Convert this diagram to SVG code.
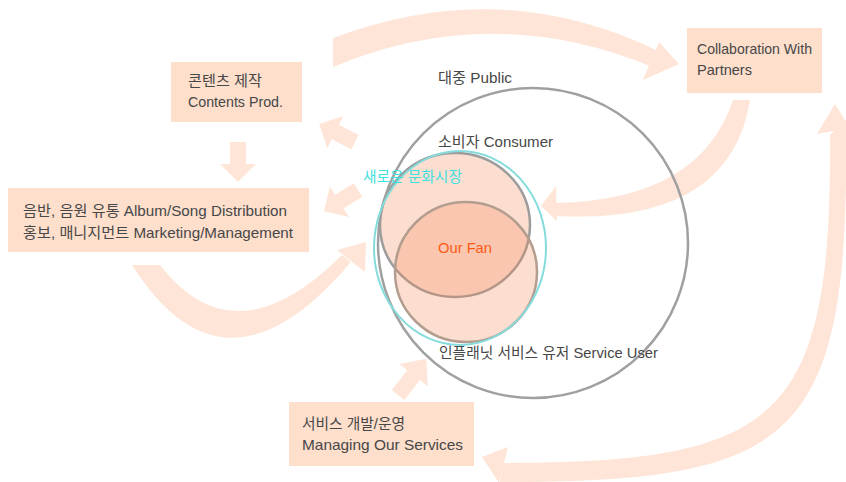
<svg xmlns="http://www.w3.org/2000/svg" xmlns:xlink="http://www.w3.org/1999/xlink" width="846" height="482" viewBox="0 0 846 482">
<defs>
<style>
.box{fill:#fddfcc}
.arr{fill:#fee5d7}
.t{font-family:"Liberation Sans","Noto Sans CJK KR",sans-serif;font-size:14.5px;fill:#474747}
.ring{fill:none;stroke:#a0a0a0;stroke-width:2.5}
.set{fill:#f5875a;fill-opacity:0.28;stroke-width:2.5}
</style>
<path id="sa" d="M0,-8 L22,-8 L22,-18 L40,0 L22,18 L22,8 L0,8 Z"/>
</defs>
<rect width="846" height="482" fill="#fff"/>
<g id="connectors" class="arr">
<path d="M333,38 Q500,-25 656,50 L650,66 Q490,1 333,67 Z"/>
<polygon points="679,64 659,42 643,80"/>
<path d="M750,100 Q730,225 556,216 L556,203 Q700,200 733,100 Z"/>
<polygon points="541,206 556,186 557,221"/>
<path d="M846,120 C850,440 800,482 500,482 L503,463 C780,463 832,420 830,135 Z"/>
<polygon points="835,104 817,134 850,128"/>
<polygon points="482,457 508,447 499,483"/>
<path d="M132,265 Q225,412 351,262 L342,255 Q235,362 160,265 Z"/>
<polygon points="366,242 337,250 365,272"/>
<use xlink:href="#sa" transform="translate(238,142) rotate(90)"/>
<use xlink:href="#sa" transform="translate(355,142) rotate(-153.4)"/>
<use xlink:href="#sa" transform="translate(358,190) rotate(148)"/>
<use xlink:href="#sa" transform="translate(398,395) rotate(-52) scale(1.15,1)"/>
</g>
<g id="public">
<circle class="ring" cx="533" cy="243" r="155"/>
<text class="t" x="438" y="83" textLength="74" lengthAdjust="spacingAndGlyphs">대중 Public</text>
</g>
<g id="consumer">
<ellipse class="set" cx="455" cy="225" rx="75" ry="72" stroke="#9c9c9c"/>
<text class="t" x="438" y="147" textLength="115" lengthAdjust="spacingAndGlyphs">소비자 Consumer</text>
</g>
<g id="service-user">
<ellipse class="set" cx="466" cy="272" rx="71" ry="70" stroke="#b39d8f"/>
<text class="t" x="439" y="358" textLength="219" lengthAdjust="spacingAndGlyphs">인플래닛 서비스 유저 Service User</text>
</g>
<g id="new-market">
<ellipse cx="460" cy="248" rx="86" ry="97" fill="none" stroke="#86dcdc" stroke-width="2"/>
<text class="t" x="363" y="182" textLength="99" lengthAdjust="spacingAndGlyphs" style="fill:#3fe0e0">새로운 문화시장</text>
</g>
<g id="our-fan">
<text class="t" x="438" y="253" textLength="54" lengthAdjust="spacingAndGlyphs" style="fill:#ff5a14">Our Fan</text>
</g>
<g id="contents">
<rect class="box" x="171" y="62" width="131" height="60"/>
<text class="t" x="188" y="86" textLength="74" lengthAdjust="spacingAndGlyphs">콘텐츠 제작</text>
<text class="t" x="188" y="107" textLength="95" lengthAdjust="spacingAndGlyphs">Contents Prod.</text>
</g>
<g id="distribution">
<rect class="box" x="8" y="188" width="301" height="64"/>
<text class="t" x="23" y="216" textLength="264" lengthAdjust="spacingAndGlyphs">음반, 음원 유통 Album/Song Distribution</text>
<text class="t" x="23" y="238" textLength="270" lengthAdjust="spacingAndGlyphs">홍보, 매니지먼트 Marketing/Management</text>
</g>
<g id="collaboration">
<rect class="box" x="687" y="28" width="135" height="65"/>
<text class="t" x="697" y="54" textLength="115" lengthAdjust="spacingAndGlyphs">Collaboration With</text>
<text class="t" x="697" y="75" textLength="55" lengthAdjust="spacingAndGlyphs">Partners</text>
</g>
<g id="services">
<rect class="box" x="289" y="402" width="185" height="64"/>
<text class="t" x="302" y="429" textLength="103" lengthAdjust="spacingAndGlyphs">서비스 개발/운영</text>
<text class="t" x="302" y="450" textLength="161" lengthAdjust="spacingAndGlyphs">Managing Our Services</text>
</g>
</svg>
